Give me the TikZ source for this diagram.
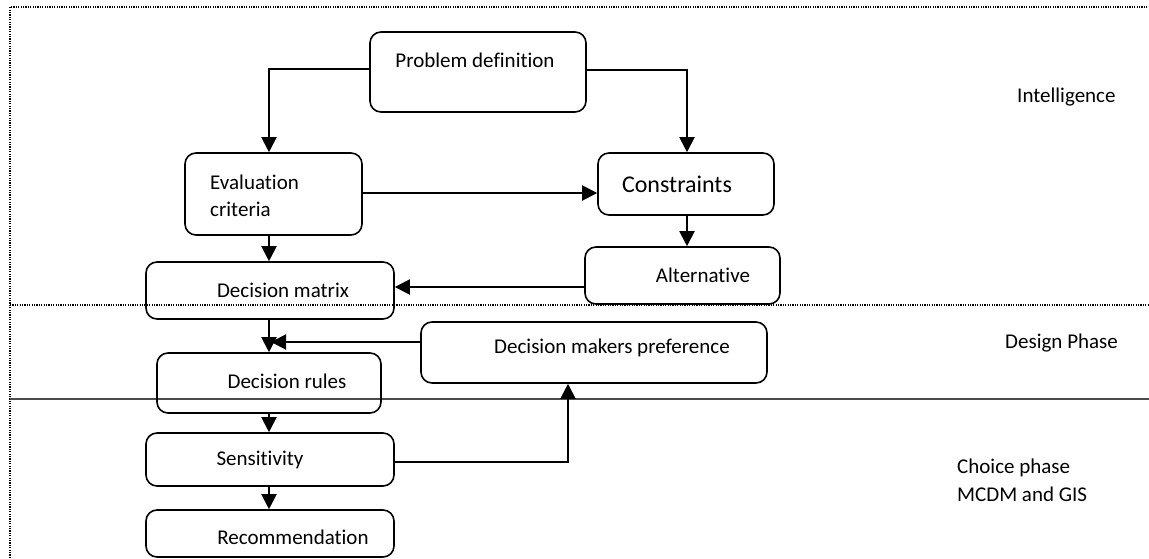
\documentclass[tikz,border=0pt]{standalone}
\usepackage{fontspec}
\setmainfont{Carlito}[Ligatures=NoCommon]
\usetikzlibrary{arrows.meta}
\begin{document}
\begin{tikzpicture}[x=1pt,y=-1pt,
  box/.style={draw, line width=1.6pt, rounded corners=11pt, inner sep=0pt},
  txt/.style={inner sep=0pt, font=\fontsize{21}{25}\selectfont},
  conn/.style={line width=2pt, -{Triangle[width=15pt,length=15pt]}},
  sepline/.style={line width=1.2pt, dash pattern=on 1.2pt off 1.2pt},
  lbl/.style={inner sep=0pt, font=\fontsize{21}{27}\selectfont, align=left}]
\useasboundingbox (0,0) rectangle (1149,558);
% frame and phase separators
\draw[sepline] (10,558) -- (10,7) -- (1149,7);
\draw[sepline] (10,305) -- (1149,305);
\draw[line width=1.2pt, black!70] (10,399) -- (1149,399);
% boxes
\node[box, minimum width=216pt, minimum height=80pt] (pd) at (478,72) {};
\node[box, minimum width=177pt, minimum height=82pt] (ev) at (273.5,194) {};
\node[box, minimum width=176pt, minimum height=62pt] (co) at (686,184) {};
\node[box, minimum width=195pt, minimum height=57pt] (al) at (682.5,275.5) {};
\node[box, minimum width=248pt, minimum height=57pt] (dm) at (270,290.5) {};
\node[box, minimum width=224pt, minimum height=60pt] (dr) at (269,383) {};
\node[box, minimum width=346pt, minimum height=61pt] (dp) at (594,352.5) {};
\node[box, minimum width=248pt, minimum height=53pt] (se) at (270,459.5) {};
\node[box, minimum width=248pt, minimum height=47pt] (re) at (270,533.5) {};
% texts
\node[txt] at (475,60) {Problem definition};
\node[txt, anchor=west] at (210,182) {Evaluation};
\node[txt, anchor=west] at (210,209) {criteria};
\node[txt, font=\fontsize{24}{28}\selectfont] at (677,184) {Constraints};
\node[txt] at (703,275) {Alternative};
\node[txt] at (283,290) {Decision matrix};
\node[txt] at (287,381) {Decision rules};
\node[txt] at (612,348) {Decision makers preference};
\node[txt] at (260,460) {Sensitivity};
\node[txt] at (293,537) {Recommendation};
% phase labels
\node[lbl, anchor=west] at (1017,97) {Intelligence};
\node[lbl, anchor=west] at (1005,343) {Design Phase};
\node[lbl, anchor=west] at (957,468) {Choice phase};
\node[lbl, anchor=west] at (957,494) {MCDM and GIS};
% connectors
\coordinate (j) at (269,342);
\draw[conn] (pd.west |- 0,69) -| (ev.north -| 269,0);
\draw[conn] (pd.east |- 0,70) -| (co.north -| 687,0);
\draw[conn] (ev.east |- 0,193) -- (co.west |- 0,193);
\draw[conn] (co.south -| 687,0) -- (al.north -| 687,0);
\draw[conn] (al.west |- 0,287) -- (dm.east |- 0,287);
\draw[conn] (ev.south -| 269,0) -- (dm.north -| 269,0);
\draw[conn] (dm.south -| 269,0) -- (dr.north -| 269,0);
\draw[conn] (dp.west |- 0,342) -- ([xshift=2pt]j);
\draw[conn] (dr.south -| 269,0) -- (se.north -| 269,0);
\draw[conn] (se.east |- 0,462) -| (dp.south -| 568,0);
\draw[conn] (se.south -| 269,0) -- (re.north -| 269,0);
\end{tikzpicture}
\end{document}
